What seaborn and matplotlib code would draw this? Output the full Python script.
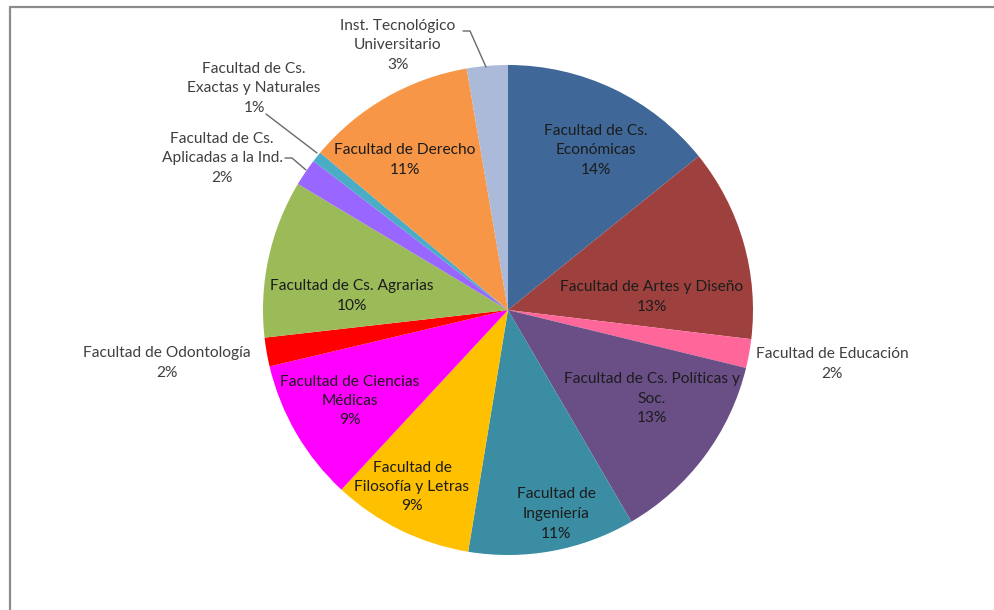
import matplotlib
matplotlib.use("Agg")
import matplotlib.pyplot as plt
import seaborn as sns
from matplotlib.lines import Line2D

# ---- data (shares, clockwise from 12 o'clock) ----
faculties = [
    "Facultad de Cs.\nEconómicas",
    "Facultad de Artes y Diseño",
    "Facultad de Educación",
    "Facultad de Cs. Políticas y\nSoc.",
    "Facultad de\nIngeniería",
    "Facultad de\nFilosofía y Letras",
    "Facultad de Ciencias\nMédicas",
    "Facultad de Odontología",
    "Facultad de Cs. Agrarias",
    "Facultad de Cs.\nAplicadas a la Ind.",
    "Facultad de Cs.\nExactas y Naturales",
    "Facultad de Derecho",
    "Inst. Tecnológico\nUniversitario",
]
shares = [14.2, 12.7, 1.9, 12.8, 11.0, 9.3, 9.4, 1.9, 10.4, 1.8, 0.7, 11.2, 2.7]
colors = ["#3F6797", "#9E413E", "#FF6699", "#6A4F87", "#3A8DA3", "#FFC000",
          "#FF00FF", "#FF0000", "#9BBB59", "#9966FF", "#4BACC6", "#F79646",
          "#AABAD8"]

# ---- layout (pixel coordinates in a 995x610 canvas, y from top) ----
W, H = 995, 610
CX, CY, R = 508, 310, 245
label_pos = [
    (596, 150), (652, 297), (832, 364), (652, 399), (556, 514), (412, 487),
    (350, 401), (167, 363), (352, 296), (222, 158), (254, 88), (405, 160),
    (398, 45),
]
outside = (2, 7, 9, 10, 12)
leaders = {
    9: [(285, 158), (292, 158), (306, 170)],
    10: [(266, 114), (317, 153)],
    12: [(463, 31), (470, 31), (486, 67)],
}

sns.set_theme(style="white")
plt.rcParams["font.family"] = ["Lato", "DejaVu Sans"]

fig = plt.figure(figsize=(W / 100, H / 100), dpi=100)
ax = fig.add_axes([0, 0, 1, 1])

pal = sns.color_palette(colors)
ax.pie(shares, colors=pal, startangle=90, counterclock=False,
       center=(CX, H - CY), radius=R, wedgeprops=dict(linewidth=0),
       frame=True)
ax.set_xlim(0, W)
ax.set_ylim(0, H)
ax.set_aspect("equal")
ax.axis("off")

for i, (name, v) in enumerate(zip(faculties, shares)):
    x, y = label_pos[i]
    ax.text(x, H - y, f"{name}\n{round(v)}%", ha="center", va="center",
            fontsize=11.2, color="#404040" if i in outside else "#1c1c1c",
            linespacing=1.5)

for pts in leaders.values():
    xs = [p[0] for p in pts]
    ys = [H - p[1] for p in pts]
    ax.plot(xs, ys, color="#6a6a6a", lw=1.0)

# chart frame (left and top border)
fig.add_artist(Line2D([10 / W, 10 / W], [0, 1 - 7 / H], color="#8c8c8c", lw=1.6))
fig.add_artist(Line2D([10 / W, 1], [1 - 7 / H, 1 - 7 / H], color="#8c8c8c", lw=1.6))

fig.savefig("out.png", dpi=100, facecolor="white")
